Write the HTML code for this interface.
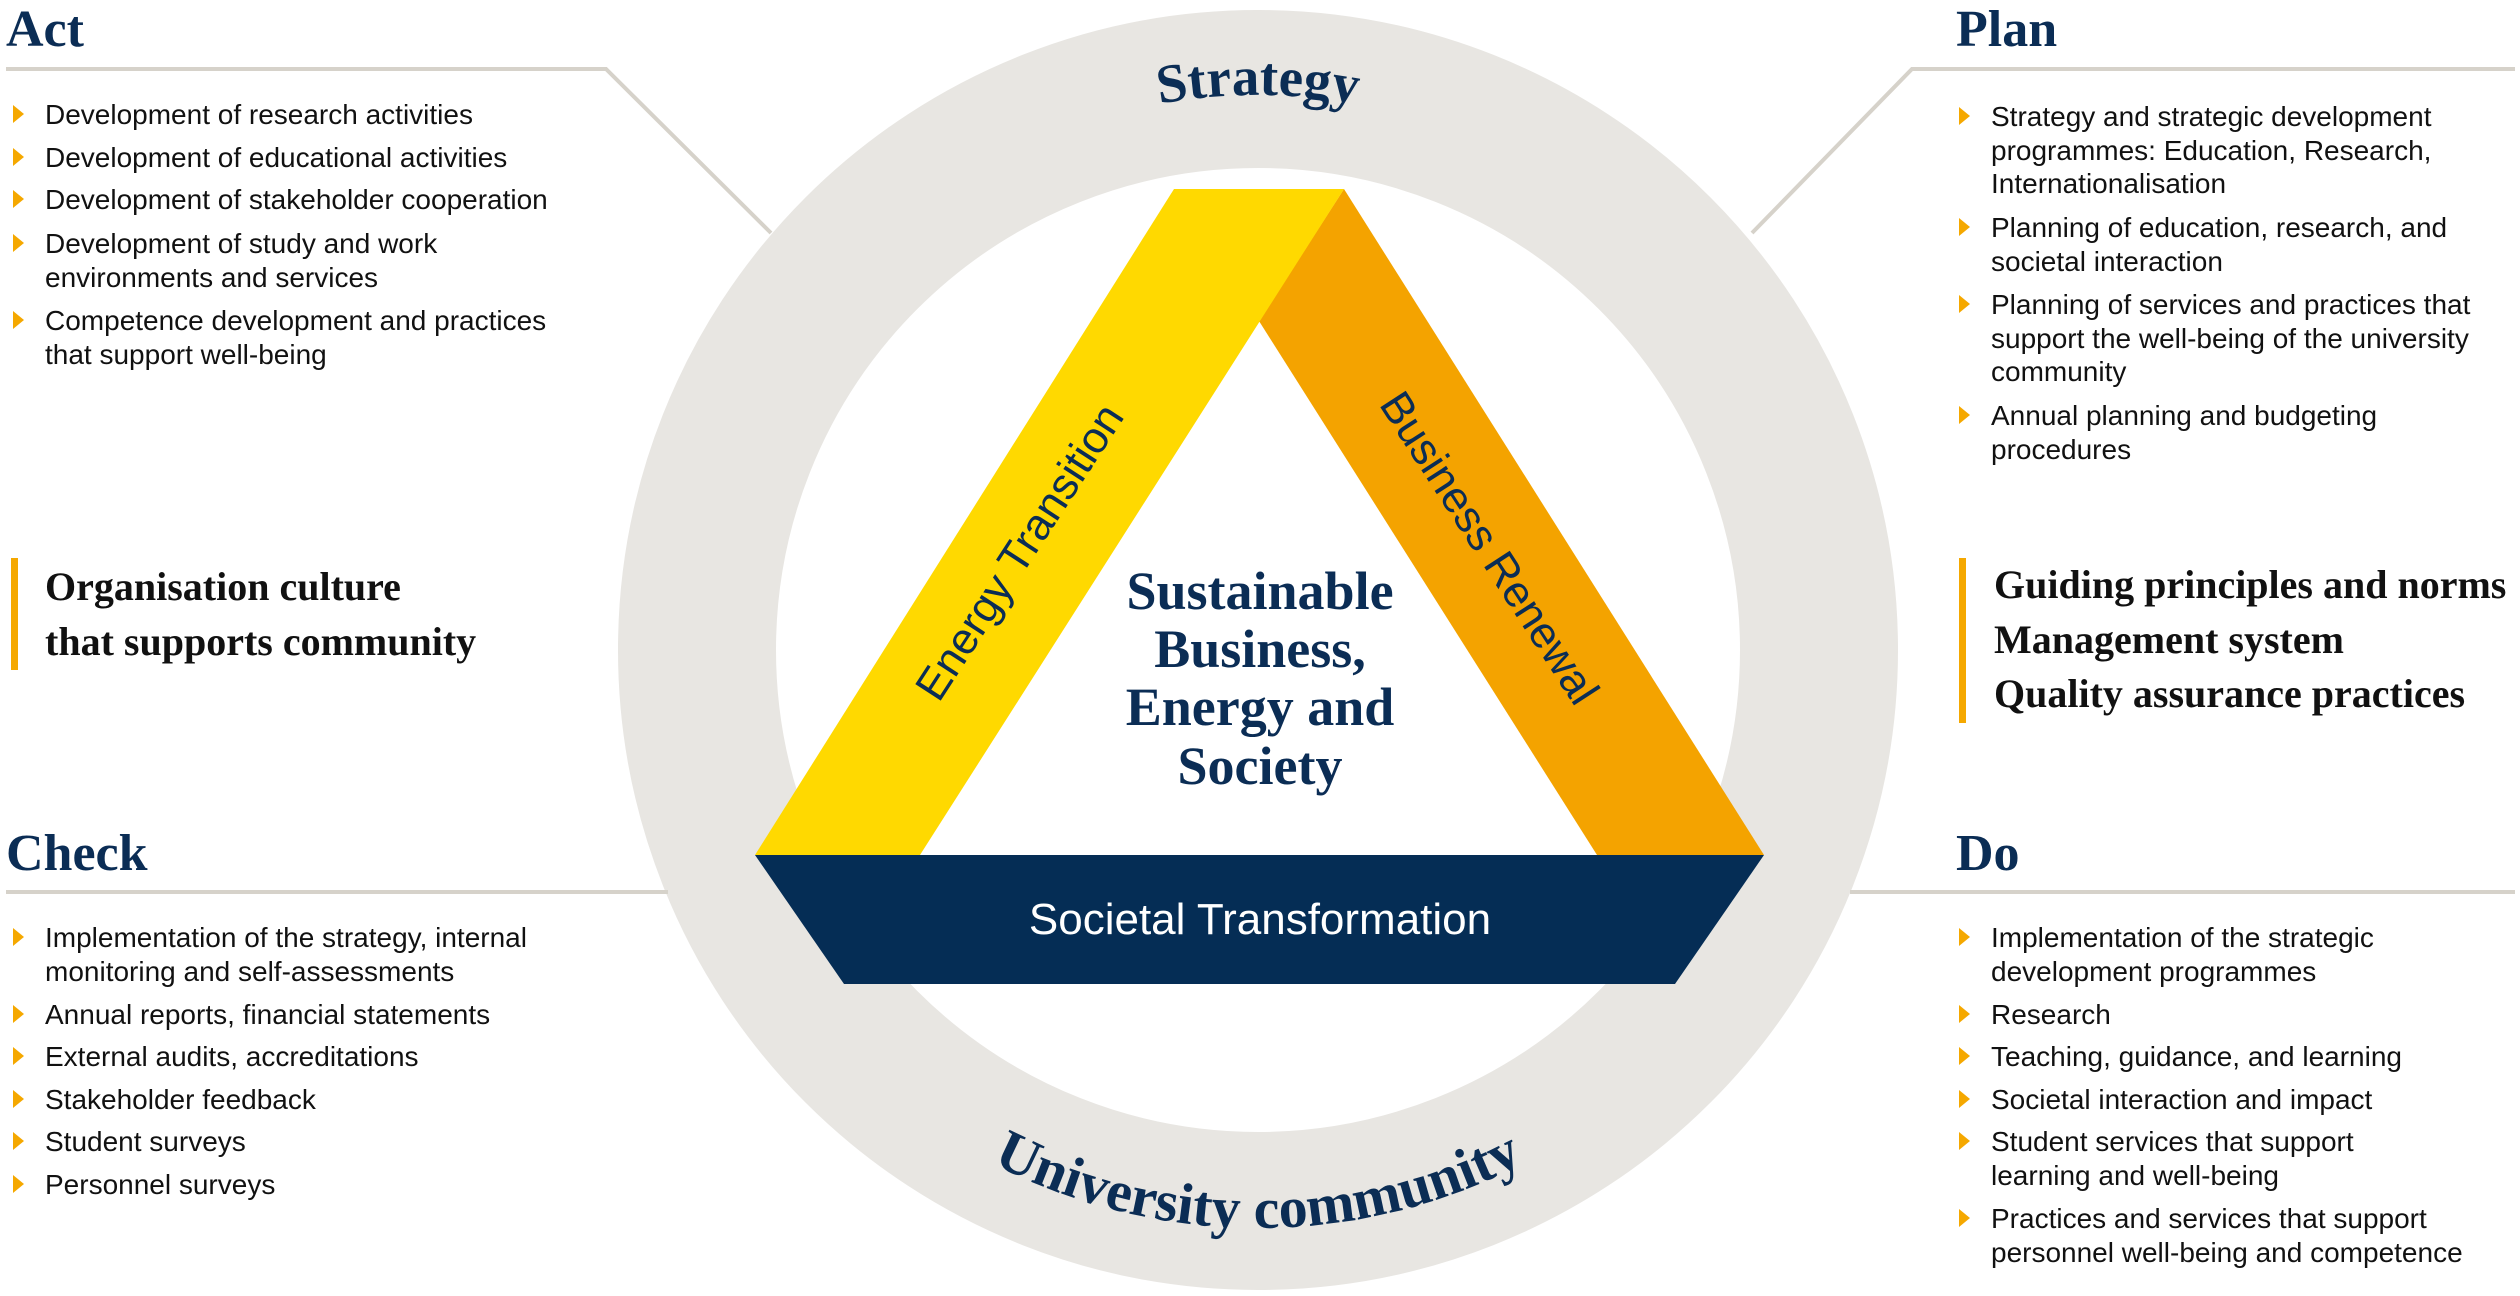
<!DOCTYPE html>
<html><head><meta charset="utf-8"><style>
html,body{margin:0;padding:0;background:#fff;}
svg{display:block;}
.h{font-family:"Liberation Serif",serif;font-weight:bold;fill:#0b2d55;}
.b{font-family:"Liberation Sans",sans-serif;font-size:28px;fill:#111;}
.s{font-family:"Liberation Serif",serif;font-weight:bold;font-size:40px;fill:#111;}
</style></head><body>
<svg width="2520" height="1296" viewBox="0 0 2520 1296" xmlns="http://www.w3.org/2000/svg">
<defs>
<path id="top" d="M 703 650 A 555 555 0 0 1 1813 650"/>
<path id="bot" d="M 680 650 A 578 578 0 0 0 1836 650"/>
<g id="tri"><polygon points="0,0 11,9 0,18" fill="#f5a800"/></g>
</defs>
<!-- ring -->
<circle cx="1258" cy="650" r="561" fill="none" stroke="#e8e6e2" stroke-width="158"/>
<!-- connector lines -->
<polyline points="6,69 606,69 771,233" fill="none" stroke="#d6d2ca" stroke-width="4"/>
<polyline points="2515,69 1912,69 1752,233" fill="none" stroke="#d6d2ca" stroke-width="4"/>
<line x1="6" y1="892" x2="668" y2="892" stroke="#d6d2ca" stroke-width="4"/>
<line x1="1850" y1="892" x2="2515" y2="892" stroke="#d6d2ca" stroke-width="4"/>
<!-- triangle -->
<polygon points="1344,189 1764,855 1597,855 1259,321" fill="#f4a300"/>
<polygon points="755,855 1174,189 1344,189 920,855" fill="#ffd900"/>
<polygon points="755,855 1764,855 1675,984 844,984" fill="#052d55"/>
<text x="1260" y="934" text-anchor="middle" font-family="Liberation Sans,sans-serif" font-size="44" fill="#fff">Societal Transformation</text>
<text transform="translate(1032,560) rotate(-57)" text-anchor="middle" font-family="Liberation Sans,sans-serif" font-size="44" fill="#0b2d55">Energy Transition</text>
<text transform="translate(1477,556) rotate(57)" text-anchor="middle" font-family="Liberation Sans,sans-serif" font-size="44" fill="#0b2d55">Business Renewal</text>
<g class="h" font-size="54" text-anchor="middle">
<text x="1260" y="609">Sustainable</text>
<text x="1260" y="667">Business,</text>
<text x="1260" y="725">Energy and</text>
<text x="1260" y="784">Society</text>
</g>
<text class="h" font-size="55" text-anchor="middle"><textPath href="#top" startOffset="50%">Strategy</textPath></text>
<text class="h" font-size="58" text-anchor="middle"><textPath href="#bot" startOffset="50%">University community</textPath></text>
<!-- headings -->
<text class="h" x="6" y="46" font-size="52">Act</text>
<text class="h" x="1956" y="46" font-size="52">Plan</text>
<text class="h" x="6" y="870" font-size="52">Check</text>
<text class="h" x="1956" y="870" font-size="52">Do</text>
<!-- Act bullets -->
<use href="#tri" x="13" y="105"/><text class="b" x="45" y="124">Development of research activities</text>
<use href="#tri" x="13" y="148"/><text class="b" x="45" y="167">Development of educational activities</text>
<use href="#tri" x="13" y="190"/><text class="b" x="45" y="209">Development of stakeholder cooperation</text>
<use href="#tri" x="13" y="234"/><text class="b" x="45" y="253">Development of study and work</text><text class="b" x="45" y="287">environments and services</text>
<use href="#tri" x="13" y="311"/><text class="b" x="45" y="330">Competence development and practices</text><text class="b" x="45" y="364">that support well-being</text>
<rect x="11" y="558" width="7" height="112" fill="#f5a800"/>
<text class="s" x="45" y="600">Organisation culture</text>
<text class="s" x="45" y="655">that supports community</text>
<!-- Plan bullets -->
<use href="#tri" x="1959" y="107"/><text class="b" x="1991" y="126">Strategy and strategic development</text><text class="b" x="1991" y="160">programmes: Education, Research,</text><text class="b" x="1991" y="193">Internationalisation</text>
<use href="#tri" x="1959" y="218"/><text class="b" x="1991" y="237">Planning of education, research, and</text><text class="b" x="1991" y="271">societal interaction</text>
<use href="#tri" x="1959" y="295"/><text class="b" x="1991" y="314">Planning of services and practices that</text><text class="b" x="1991" y="348">support the well-being of the university</text><text class="b" x="1991" y="381">community</text>
<use href="#tri" x="1959" y="406"/><text class="b" x="1991" y="425">Annual planning and budgeting</text><text class="b" x="1991" y="459">procedures</text>
<rect x="1959" y="558" width="7" height="165" fill="#f5a800"/>
<text class="s" x="1994" y="598">Guiding principles and norms</text>
<text class="s" x="1994" y="653">Management system</text>
<text class="s" x="1994" y="707">Quality assurance practices</text>
<!-- Check bullets -->
<use href="#tri" x="13" y="928"/><text class="b" x="45" y="947">Implementation of the strategy, internal</text><text class="b" x="45" y="981">monitoring and self-assessments</text>
<use href="#tri" x="13" y="1005"/><text class="b" x="45" y="1024">Annual reports, financial statements</text>
<use href="#tri" x="13" y="1047"/><text class="b" x="45" y="1066">External audits, accreditations</text>
<use href="#tri" x="13" y="1090"/><text class="b" x="45" y="1109">Stakeholder feedback</text>
<use href="#tri" x="13" y="1132"/><text class="b" x="45" y="1151">Student surveys</text>
<use href="#tri" x="13" y="1175"/><text class="b" x="45" y="1194">Personnel surveys</text>
<!-- Do bullets -->
<use href="#tri" x="1959" y="928"/><text class="b" x="1991" y="947">Implementation of the strategic</text><text class="b" x="1991" y="981">development programmes</text>
<use href="#tri" x="1959" y="1005"/><text class="b" x="1991" y="1024">Research</text>
<use href="#tri" x="1959" y="1047"/><text class="b" x="1991" y="1066">Teaching, guidance, and learning</text>
<use href="#tri" x="1959" y="1090"/><text class="b" x="1991" y="1109">Societal interaction and impact</text>
<use href="#tri" x="1959" y="1132"/><text class="b" x="1991" y="1151">Student services that support</text><text class="b" x="1991" y="1185">learning and well-being</text>
<use href="#tri" x="1959" y="1209"/><text class="b" x="1991" y="1228">Practices and services that support</text><text class="b" x="1991" y="1262">personnel well-being and competence</text>
</svg>
</body></html>
